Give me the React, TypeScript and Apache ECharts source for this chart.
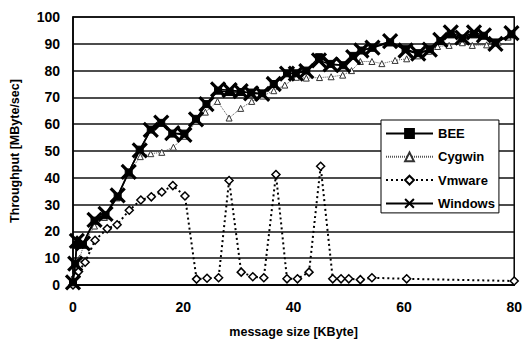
import React, { useEffect, useRef } from "react";
import * as echarts from "echarts";

const xTicks = [0, 20, 40, 60, 80];
const yTicks = [0, 10, 20, 30, 40, 50, 60, 70, 80, 90, 100];

const winX = [0, 0.4, 0.7, 1.8, 3.9, 5.9, 8.1, 10.1, 12.1, 14.1, 16, 18, 20.2, 22.3, 24.2, 26.3, 28.4, 30.4, 32.3, 34.3, 36.4, 38.8, 40.4, 42.3, 44.6, 46.7, 49, 50.8, 52.3, 54.3, 57.5, 60.3, 62.6, 64.7, 66.6, 68.5, 70.6, 72.7, 74.5, 76.6, 79.5];
const winY = [1, 8, 16.5, 15.5, 24.3, 26.5, 33.4, 42.2, 50.2, 57.9, 60.6, 56.7, 56, 61.8, 67.5, 73, 72.7, 72.3, 71.5, 71.3, 75, 78.9, 78.9, 79.8, 83.8, 82.3, 82, 85, 87.5, 88.6, 91, 87.5, 86.3, 87.8, 91.5, 94.3, 92.3, 94.3, 93.1, 90, 94];

const beeX = winX;
const beeY = [1, 8, 15, 15, 24, 26, 33, 42, 50.5, 58, 60.5, 56.5, 56.5, 62, 67.5, 72.5, 72, 72, 71.8, 71.5, 75, 79, 79, 80, 85, 82.5, 82, 85.5, 87.5, 88.5, 90.5, 88, 86.5, 88, 91, 93.5, 92, 93.5, 93, 90.5, 93.5];

const cygX = [0, 0.5, 1.2, 2, 3.9, 5.7, 8, 10, 12.2, 14.1, 16.1, 18.2, 20.2, 22.4, 24, 26.2, 28.3, 30.4, 32.4, 34.4, 36.4, 38.4, 40.5, 42.3, 44.7, 46.8, 48.9, 50.5, 52.1, 54.2, 56, 58.4, 60.5, 62.5, 64.5, 66.1, 68.2, 70.6, 72.4, 75, 77.1, 78.9];
const cygY = [0.5, 5, 10, 15.3, 22, 25.2, 32.5, 41.5, 47.9, 49, 49.5, 51.4, 55.5, 61.2, 64.5, 68.5, 62.3, 65.9, 68.5, 70.5, 72.5, 74.6, 77.5, 77.2, 77.4, 77.7, 78.3, 80, 83.4, 83.4, 82.6, 83.8, 84.4, 85.5, 87.2, 89, 89.4, 90.4, 89.4, 89.6, 90.6, 92.5];

const vmX = [0, 0.5, 1, 2.2, 4, 6.2, 8, 10.2, 12.3, 14.2, 16.1, 18.1, 20.3, 22.4, 24.3, 26.4, 28.3, 30.5, 32.6, 34.6, 36.8, 38.8, 40.7, 42.8, 44.9, 47.1, 48.6, 50, 52.1, 54.2, 60.5, 80];
const vmY = [0, 3, 5, 8.5, 16.7, 21, 22.5, 27.9, 31.7, 32.9, 34.7, 37.1, 33.2, 2.2, 2.5, 2.7, 39, 4.8, 3.1, 2.7, 41.2, 2.3, 2.3, 4.8, 44.3, 2.3, 2.3, 2.3, 2, 2.7, 2.3, 1.5];

const names = ["BEE", "Cygwin", "Vmware", "Windows"];

const pairs = (xs: number[], ys: number[]) => xs.map((x, i) => [x, ys[i]]);

const FONT = "Liberation Sans, Arial, sans-serif";

export default function App() {
  const ref = useRef<HTMLDivElement>(null);
  useEffect(() => {
    if (!ref.current) return;
    const chart = echarts.init(ref.current, undefined, { renderer: "svg" });
    chart.setOption({
      animation: false,
      backgroundColor: "#fff",
      textStyle: { fontFamily: FONT },
      grid: {
        left: 68,
        right: 9,
        top: 17,
        bottom: 55,
        show: true,
        borderColor: "#000",
        borderWidth: 1.5,
      },
      legend: {
        data: names,
        orient: "vertical",
        left: 381,
        top: 120,
        width: 118,
        itemWidth: 47,
        itemHeight: 11,
        itemGap: 10.3,
        padding: [7, 4, 3, 4],
        backgroundColor: "#fff",
        borderColor: "#000",
        borderWidth: 1,
        textStyle: { fontFamily: FONT, fontSize: 13, fontWeight: "bold", color: "#000", padding: [0, 0, 0, 0] },
      },
      xAxis: {
        type: "value",
        min: xTicks[0],
        max: xTicks[xTicks.length - 1],
        interval: 20,
        name: "message size [KByte]",
        nameLocation: "middle",
        nameGap: 40,
        nameTextStyle: { fontFamily: FONT, fontSize: 12.5, fontWeight: "bold", color: "#000" },
        axisLine: { show: true, lineStyle: { color: "#000", width: 1.5 } },
        axisTick: { show: false },
        splitLine: { show: false },
        axisLabel: { fontFamily: FONT, fontSize: 14, fontWeight: "bold", color: "#000", margin: 15 },
      },
      yAxis: {
        type: "value",
        min: yTicks[0],
        max: yTicks[yTicks.length - 1],
        interval: 10,
        name: "Throughput [MByte/sec]",
        nameLocation: "middle",
        nameGap: 52,
        nameTextStyle: { fontFamily: FONT, fontSize: 12.5, fontWeight: "bold", color: "#000" },
        axisLine: { show: true, lineStyle: { color: "#000", width: 1.5 } },
        axisTick: { show: false },
        splitLine: { show: true, lineStyle: { color: "#111", width: 1.5 } },
        axisLabel: { fontFamily: FONT, fontSize: 14, fontWeight: "bold", color: "#000", margin: 13 },
      },
      series: [
        {
          name: "BEE",
          type: "line",
          data: pairs(beeX, beeY),
          symbol: "rect",
          symbolSize: 7,
          lineStyle: { color: "#000", width: 1.5 },
          itemStyle: { color: "#000", borderColor: "#000", borderWidth: 1 },
          z: 3,
        },
        {
          name: "Cygwin",
          type: "line",
          data: pairs(cygX, cygY),
          symbol: "triangle",
          symbolSize: 6,
          lineStyle: { color: "#555", width: 1, type: [1, 1] },
          itemStyle: { color: "#fff", borderColor: "#333", borderWidth: 1 },
          z: 2,
        },
        {
          name: "Vmware",
          type: "line",
          data: pairs(vmX, vmY),
          symbol: "diamond",
          symbolSize: 8,
          lineStyle: { color: "#000", width: 2, type: [2, 3] },
          itemStyle: { color: "#fff", borderColor: "#000", borderWidth: 1.5 },
          z: 2,
        },
        {
          name: "Windows",
          type: "line",
          data: pairs(winX, winY),
          symbol: "path://M0,0L10,10M10,0L0,10",
          symbolSize: 14,
          lineStyle: { color: "#000", width: 1.5 },
          itemStyle: { color: "#000", borderColor: "#000", borderWidth: 3.2 },
          z: 4,
        },
      ],
    });
    return () => chart.dispose();
  }, []);
  return (
    <div
      ref={ref}
      style={{ position: "fixed", left: 0, top: 0, width: 525, height: 343, background: "#fff" }}
    />
  );
}
